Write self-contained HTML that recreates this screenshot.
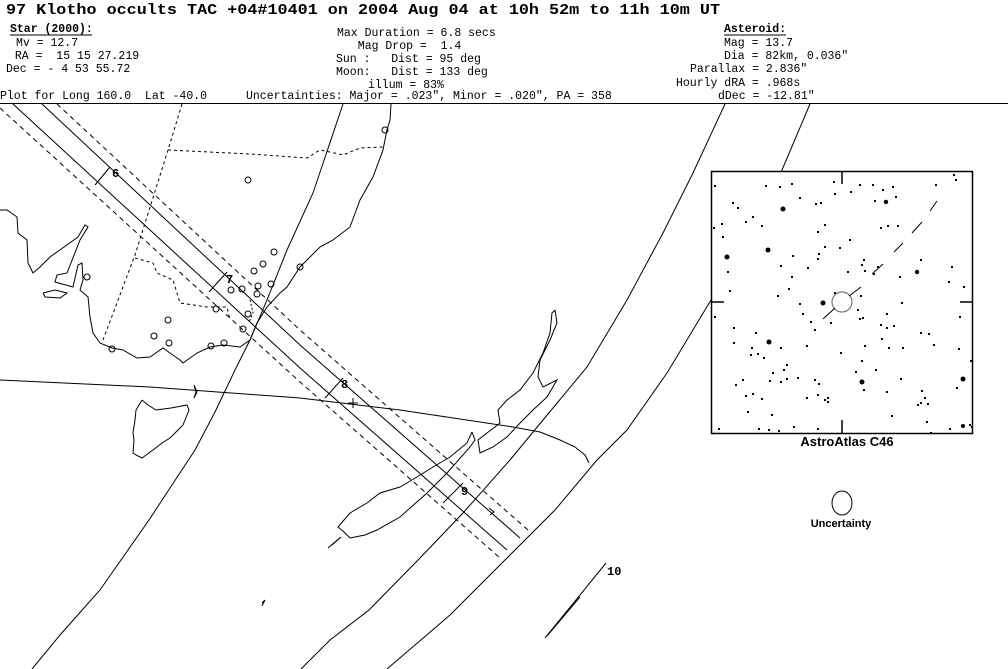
<!DOCTYPE html>
<html><head><meta charset="utf-8"><style>
html,body{margin:0;padding:0;background:#fff;}
svg{display:block;}
text{font-family:"Liberation Mono",monospace;fill:#000;white-space:pre;}
.s{font-size:11.5px;}
</style></head><body>
<svg width="1008" height="669" viewBox="0 0 1008 669" xmlns="http://www.w3.org/2000/svg" xml:space="preserve">
<rect width="1008" height="669" fill="#fff"/>
<text x="6" y="14" font-size="15" font-weight="bold" textLength="714" lengthAdjust="spacingAndGlyphs">97 Klotho occults TAC +04#10401 on 2004 Aug 04 at 10h 52m to 11h 10m UT</text>
<text class="s" x="10" y="32" font-weight="bold">Star (2000):</text>
<line x1="10" y1="35" x2="92" y2="35" stroke="#000"/>
<text class="s" x="16" y="46">Mv = 12.7</text>
<text class="s" x="8" y="59"> RA =  15 15 27.219</text>
<text class="s" x="6" y="72">Dec = - 4 53 55.72</text>
<text class="s" x="0" y="99">Plot for Long 160.0  Lat -40.0</text>
<text class="s" x="246" y="99">Uncertainties: Major = .023", Minor = .020", PA = 358</text>
<text class="s" x="337" y="36">Max Duration = 6.8 secs</text>
<text class="s" x="344" y="49">  Mag Drop =  1.4</text>
<text class="s" x="336" y="62">Sun :   Dist = 95 deg</text>
<text class="s" x="336" y="75">Moon:   Dist = 133 deg</text>
<text class="s" x="368" y="88">illum = 83%</text>
<text class="s" x="724" y="32" font-weight="bold">Asteroid:</text>
<line x1="724" y1="35" x2="786" y2="35" stroke="#000"/>
<text class="s" x="724" y="46">Mag = 13.7</text>
<text class="s" x="724" y="59">Dia = 82km, 0.036"</text>
<text class="s" x="690" y="72">Parallax = 2.836"</text>
<text class="s" x="676" y="86">Hourly dRA = .968s</text>
<text class="s" x="718" y="99">dDec = -12.81"</text>
<line x1="0" y1="103.5" x2="1008" y2="103.5" stroke="#000"/>

<g fill="none" stroke="#000" stroke-width="1">
<polyline points="343,104 313,193 287,250 267,300 250,340 235,370 215,412 195,450 170,488 149,520 100,590 60,635 32,669"/>
<polyline points="725,104 693,173 663,233 627,300 587,367 543,420 510,460 463,513 420,558 369,610 330,640 301,669"/>
<polyline points="810,104 782,170 711,300 667,373 627,430 597,460 555,510 507,558 450,615 387,669"/>
<polyline points="0,380 150,387 300,398 400,410 513,427 540,432 560,440 575,447 585,455 589,463"/>
<line x1="353" y1="398" x2="353" y2="408"/><line x1="348" y1="403" x2="358" y2="403"/>
<polyline points="13,104 300,368 507,550"/>
<polyline points="42,104 300,345 520,538"/>
<polyline points="57,104 300,330 528,530" stroke-dasharray="5,4"/>
<polyline points="0,108 300,382 500,558" stroke-dasharray="5,4"/>
<line x1="95" y1="185" x2="110" y2="167"/>
<line x1="209" y1="292" x2="227" y2="272"/>
<line x1="325" y1="398" x2="343" y2="378"/>
<line x1="443" y1="503" x2="463" y2="483"/>
<line x1="545" y1="638" x2="606" y2="563"/>
<line x1="547" y1="636" x2="580" y2="597"/>
<polyline points="391,104 390,120 387,130 383,150 373,177 360,200 350,227 333,240 320,247 307,260 300,267 287,287 280,293 267,307 257,323 250,340 240,347 223,345 210,347 197,353 183,363 180,360 170,353 163,348 150,357 137,358 123,350 112,348 100,343 93,333 90,317 88,297 80,290 83,280 82,263 78,265 73,287 55,282 57,275 67,273 80,240 88,227 85,225 78,237 50,257 40,267 33,273 28,263 27,240 18,233 17,217 7,210 0,210"/>
<polyline points="43,293 55,290 67,293 60,298 45,297 43,293"/>
<polyline points="142,400 148,405 156,410 171,408 187,405 189,410 183,425 178,430 170,438 162,443 153,450 142,458 136,455 133,453 134,440 133,433 135,420 136,410 142,400"/>
<polyline points="194,385 197,392 194,398 196,392 194,385"/>
<polyline points="555,310 557,323 550,340 540,360 538,377 543,387 557,380 547,397 533,410 520,423 507,437 493,447 480,453 478,440 487,433 500,423 498,410 507,400 520,390 533,373 543,353 550,333 552,313 555,310"/>
<polyline points="472,432 467,443 450,457 433,467 417,477 400,487 380,493 367,503 350,513 338,527 344,532 350,538 365,535 377,530 400,517 427,493 447,473 470,447 475,440 472,432"/>
<polyline points="328,548 335,542 341,537 332,545"/>
<polyline points="262,603 265,600 262,606"/>
<polyline points="489,508 494,512 490,515"/>
<polyline stroke-dasharray="3,3" points="182,104 168,150 135,255 103,340"/>
<polyline stroke-dasharray="3,3" points="168,150 250,154 307,158 320,150 330,152 343,155 360,148 383,147"/>
<polyline stroke-dasharray="3,3" points="135,258 153,263 157,273 173,280 180,303 207,307 227,307 230,320"/>
<polyline stroke-dasharray="2,2" points="250,300 253,313 249,322"/>
<g>
<circle cx="248" cy="180" r="3"/><circle cx="274" cy="252" r="3"/><circle cx="263" cy="264" r="3"/>
<circle cx="254" cy="271" r="3"/><circle cx="242" cy="289" r="3"/><circle cx="231" cy="290" r="3"/>
<circle cx="258" cy="286" r="3"/><circle cx="257" cy="294" r="3"/><circle cx="271" cy="284" r="3"/>
<circle cx="248" cy="314" r="3"/><circle cx="243" cy="329" r="3"/><circle cx="216" cy="309" r="3"/>
<circle cx="168" cy="320" r="3"/><circle cx="154" cy="336" r="3"/><circle cx="169" cy="343" r="3"/>
<circle cx="211" cy="346" r="3"/><circle cx="224" cy="343" r="3"/><circle cx="112" cy="349" r="3"/>
<circle cx="300" cy="267" r="3"/><circle cx="87" cy="277" r="3"/><circle cx="385" cy="130" r="3"/>
</g>
</g>
<text x="112" y="177" font-size="12" font-weight="bold">6</text>
<text x="226" y="283" font-size="12" font-weight="bold">7</text>
<text x="341" y="388" font-size="12" font-weight="bold">8</text>
<text x="461" y="495" font-size="12" font-weight="bold">9</text>
<text x="607" y="575" font-size="12" font-weight="bold">10</text>

<rect x="711.5" y="171.5" width="261" height="262" fill="#fff" stroke="#000" stroke-width="1.5"/>
<g stroke="#000" stroke-width="1.5">
<line x1="842" y1="171" x2="842" y2="184"/><line x1="842" y1="420" x2="842" y2="433"/>
<line x1="711" y1="302" x2="724" y2="302"/><line x1="960" y1="302" x2="973" y2="302"/>
</g>
<circle cx="842" cy="302" r="10" fill="none" stroke="#777" stroke-width="1.2"/>
<g stroke="#000" stroke-width="1">
<line x1="823" y1="319" x2="835" y2="308"/><line x1="849" y1="296" x2="861" y2="287"/>
<line x1="872" y1="274" x2="883" y2="264"/><line x1="894" y1="252" x2="903" y2="243"/>
<line x1="912" y1="233" x2="922" y2="222"/><line x1="930" y1="211" x2="937" y2="201"/>
</g>
<g fill="#000">
<circle cx="783" cy="209" r="2.5"/><circle cx="768" cy="250" r="2.5"/><circle cx="727" cy="257" r="2.5"/>
<circle cx="886" cy="202" r="2.2"/><circle cx="917" cy="272" r="2.2"/><circle cx="823" cy="303" r="2.5"/>
<circle cx="769" cy="342" r="2.5"/><circle cx="862" cy="382" r="2.5"/><circle cx="963" cy="379" r="2.5"/>
<circle cx="963" cy="426" r="2"/>
</g>
<text x="847" y="446" font-size="13" font-weight="bold" text-anchor="middle" style="font-family:'Liberation Sans',sans-serif">AstroAtlas C46</text>
<ellipse cx="842" cy="503" rx="10" ry="12" fill="none" stroke="#000"/>
<text x="841" y="527" font-size="11" font-weight="bold" text-anchor="middle" style="font-family:'Liberation Sans',sans-serif">Uncertainty</text>
<g fill="#000">
<rect x="714" y="185" width="2" height="2"/><rect x="732" y="202" width="2" height="2"/><rect x="737" y="207" width="2" height="2"/>
<rect x="752" y="216" width="2" height="2"/><rect x="745" y="221" width="2" height="2"/><rect x="721" y="223" width="2" height="2"/>
<rect x="713" y="227" width="2" height="2"/><rect x="722" y="236" width="2" height="2"/><rect x="761" y="225" width="2" height="2"/>
<rect x="765" y="185" width="2" height="2"/><rect x="779" y="186" width="2" height="2"/><rect x="791" y="183" width="2" height="2"/>
<rect x="799" y="197" width="2" height="2"/><rect x="815" y="203" width="2" height="2"/><rect x="820" y="202" width="2" height="2"/>
<rect x="834" y="193" width="2" height="2"/><rect x="833" y="181" width="2" height="2"/><rect x="850" y="191" width="2" height="2"/>
<rect x="859" y="184" width="2" height="2"/><rect x="872" y="184" width="2" height="2"/><rect x="882" y="189" width="2" height="2"/>
<rect x="892" y="186" width="2" height="2"/><rect x="895" y="196" width="2" height="2"/><rect x="874" y="200" width="2" height="2"/>
<rect x="935" y="184" width="2" height="2"/><rect x="953" y="174" width="2" height="2"/><rect x="955" y="179" width="2" height="2"/>
<rect x="880" y="227" width="2" height="2"/><rect x="887" y="225" width="2" height="2"/><rect x="897" y="225" width="2" height="2"/>
<rect x="824" y="224" width="2" height="2"/><rect x="817" y="231" width="2" height="2"/><rect x="849" y="239" width="2" height="2"/>
<rect x="824" y="246" width="2" height="2"/><rect x="839" y="247" width="2" height="2"/><rect x="818" y="253" width="2" height="2"/>
<rect x="817" y="258" width="2" height="2"/><rect x="792" y="255" width="2" height="2"/><rect x="780" y="265" width="2" height="2"/>
<rect x="807" y="267" width="2" height="2"/><rect x="791" y="276" width="2" height="2"/><rect x="847" y="271" width="2" height="2"/>
<rect x="863" y="259" width="2" height="2"/><rect x="861" y="264" width="2" height="2"/><rect x="864" y="270" width="2" height="2"/>
<rect x="877" y="266" width="2" height="2"/><rect x="873" y="273" width="2" height="2"/><rect x="899" y="276" width="2" height="2"/>
<rect x="920" y="259" width="2" height="2"/><rect x="951" y="266" width="2" height="2"/><rect x="948" y="281" width="2" height="2"/>
<rect x="963" y="286" width="2" height="2"/><rect x="727" y="271" width="2" height="2"/><rect x="729" y="290" width="2" height="2"/>
<rect x="788" y="288" width="2" height="2"/><rect x="777" y="295" width="2" height="2"/><rect x="834" y="292" width="2" height="2"/>
<rect x="799" y="303" width="2" height="2"/><rect x="802" y="313" width="2" height="2"/><rect x="810" y="321" width="2" height="2"/>
<rect x="814" y="329" width="2" height="2"/><rect x="830" y="322" width="2" height="2"/><rect x="860" y="295" width="2" height="2"/>
<rect x="857" y="309" width="2" height="2"/><rect x="859" y="318" width="2" height="2"/><rect x="862" y="317" width="2" height="2"/>
<rect x="886" y="313" width="2" height="2"/><rect x="880" y="324" width="2" height="2"/><rect x="886" y="327" width="2" height="2"/>
<rect x="893" y="325" width="2" height="2"/><rect x="901" y="302" width="2" height="2"/><rect x="959" y="316" width="2" height="2"/>
<rect x="714" y="316" width="2" height="2"/><rect x="733" y="327" width="2" height="2"/><rect x="755" y="332" width="2" height="2"/>
<rect x="733" y="342" width="2" height="2"/><rect x="751" y="347" width="2" height="2"/><rect x="750" y="354" width="2" height="2"/>
<rect x="757" y="353" width="2" height="2"/><rect x="763" y="357" width="2" height="2"/><rect x="780" y="347" width="2" height="2"/>
<rect x="806" y="345" width="2" height="2"/><rect x="864" y="345" width="2" height="2"/><rect x="881" y="338" width="2" height="2"/>
<rect x="888" y="347" width="2" height="2"/><rect x="902" y="347" width="2" height="2"/><rect x="920" y="332" width="2" height="2"/>
<rect x="928" y="333" width="2" height="2"/><rect x="933" y="344" width="2" height="2"/><rect x="958" y="348" width="2" height="2"/>
<rect x="970" y="360" width="2" height="2"/><rect x="840" y="352" width="2" height="2"/><rect x="861" y="360" width="2" height="2"/>
<rect x="855" y="371" width="2" height="2"/><rect x="875" y="369" width="2" height="2"/><rect x="900" y="378" width="2" height="2"/>
<rect x="786" y="364" width="2" height="2"/><rect x="783" y="369" width="2" height="2"/><rect x="772" y="372" width="2" height="2"/>
<rect x="769" y="380" width="2" height="2"/><rect x="780" y="381" width="2" height="2"/><rect x="786" y="378" width="2" height="2"/>
<rect x="797" y="377" width="2" height="2"/><rect x="814" y="379" width="2" height="2"/><rect x="818" y="383" width="2" height="2"/>
<rect x="742" y="379" width="2" height="2"/><rect x="735" y="384" width="2" height="2"/><rect x="745" y="395" width="2" height="2"/>
<rect x="752" y="393" width="2" height="2"/><rect x="761" y="398" width="2" height="2"/><rect x="806" y="397" width="2" height="2"/>
<rect x="817" y="394" width="2" height="2"/><rect x="827" y="397" width="2" height="2"/><rect x="824" y="399" width="2" height="2"/>
<rect x="827" y="401" width="2" height="2"/><rect x="863" y="389" width="2" height="2"/><rect x="886" y="391" width="2" height="2"/>
<rect x="921" y="390" width="2" height="2"/><rect x="924" y="397" width="2" height="2"/><rect x="917" y="404" width="2" height="2"/>
<rect x="920" y="402" width="2" height="2"/><rect x="927" y="403" width="2" height="2"/><rect x="956" y="387" width="2" height="2"/>
<rect x="926" y="421" width="2" height="2"/><rect x="891" y="415" width="2" height="2"/><rect x="747" y="411" width="2" height="2"/>
<rect x="771" y="414" width="2" height="2"/><rect x="718" y="428" width="2" height="2"/><rect x="758" y="428" width="2" height="2"/>
<rect x="768" y="429" width="2" height="2"/><rect x="778" y="430" width="2" height="2"/><rect x="793" y="426" width="2" height="2"/>
<rect x="817" y="428" width="2" height="2"/><rect x="949" y="428" width="2" height="2"/><rect x="969" y="424" width="2" height="2"/>
<rect x="971" y="426" width="2" height="2"/><rect x="930" y="432" width="2" height="2"/>
</g>
</svg>
</body></html>
